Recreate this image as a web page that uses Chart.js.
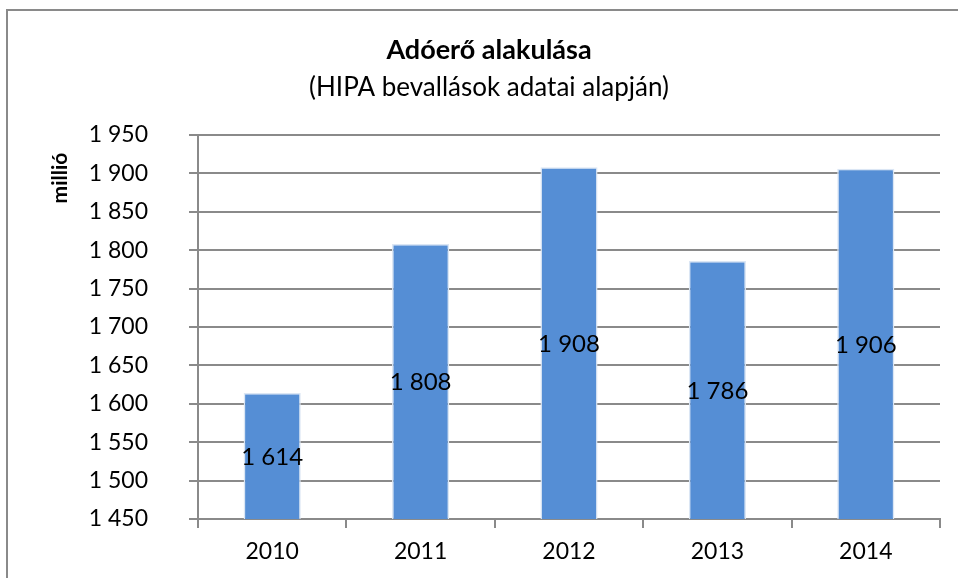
<!DOCTYPE html>
<html><head><meta charset="utf-8">
<script src="https://cdn.jsdelivr.net/npm/chart.js@4/dist/chart.umd.min.js"></script>
<style>
html,body{margin:0;padding:0;background:#fff;overflow:hidden;}
#frame{position:absolute;left:6px;top:9px;width:1000px;height:620px;border:2px solid #8a8a8a;box-sizing:border-box;}
#wrap{position:absolute;left:0;top:0;width:958px;height:578px;}
</style></head>
<body>
<div id="frame"></div>
<div id="wrap"><canvas id="c" width="958" height="578"></canvas></div>
<script>
const categories = ['2010','2011','2012','2013','2014'];
const values = [1614, 1808, 1908, 1786, 1906];
const titleText = 'Adóerő alakulása';
const subtitleText = '(HIPA bevallások adatai alapján)';
const yAxisLabel = 'millió';
const yMin = 1450, yMax = 1950, yStep = 50;

const FONT = 'Lato, "Open Sans", "Liberation Sans", sans-serif';
function fmt(v){ return String(Math.round(v)).replace(/\B(?=(\d{3})+(?!\d))/g,' '); }

const labelPlugin = {
  id:'valueLabels',
  afterDatasetsDraw(chart){
    const ctx = chart.ctx;
    const xs = chart.scales.x, ys = chart.scales.y;
    ctx.save();
    ctx.font = '24px ' + FONT;
    ctx.fillStyle = '#000';
    ctx.textAlign = 'center';
    ctx.textBaseline = 'middle';
    values.forEach((v,i)=>{
      const x = xs.getPixelForValue(i);
      const top = ys.getPixelForValue(v);
      const base = ys.getPixelForValue(yMin);
      ctx.fillText(fmt(v), x, (top + base)/2 + 1);
    });
    // titles
    ctx.font = 'bold 27px ' + FONT;
    ctx.fillText(titleText, 489, 50);
    ctx.font = '26px ' + FONT;
    ctx.fillText(subtitleText, 489, 88);
    // y axis title
    ctx.font = 'bold 21px ' + FONT;
    ctx.translate(60, 178);
    ctx.rotate(-Math.PI/2);
    ctx.fillText(yAxisLabel, 0, 0);
    ctx.restore();
  }
};

new Chart(document.getElementById('c'), {
  type:'bar',
  data:{ labels:categories, datasets:[{ data:values, backgroundColor:'#558ed5', borderColor:'#dbe6f4', borderWidth:1.5, barPercentage:0.385, categoryPercentage:1.0 }]},
  options:{
    responsive:false, animation:false,
    layout:{ padding:{ left:0, right:18, top:135, bottom:0 } },
    plugins:{ legend:{display:false}, tooltip:{enabled:false} },
    scales:{
      y:{
        min:yMin, max:yMax,
        afterFit(s){ s.width = 198; },
        ticks:{ stepSize:yStep, color:'#000', font:{family:FONT,size:23}, padding:41, callback:(v)=>fmt(v) },
        grid:{ color:'#8a8a8a', lineWidth:2, tickLength:9, tickColor:'#8a8a8a' },
        border:{ color:'#8a8a8a', width:2 }
      },
      x:{
        afterFit(s){ s.height = 59; },
        ticks:{ color:'#000', font:{family:FONT,size:23}, padding:10 },
        grid:{ offset:true, drawOnChartArea:false, drawTicks:true, tickLength:9, color:'#8a8a8a', lineWidth:2 },
        border:{ color:'#8a8a8a', width:2 }
      }
    }
  },
  plugins:[labelPlugin]
});
</script>
</body></html>
